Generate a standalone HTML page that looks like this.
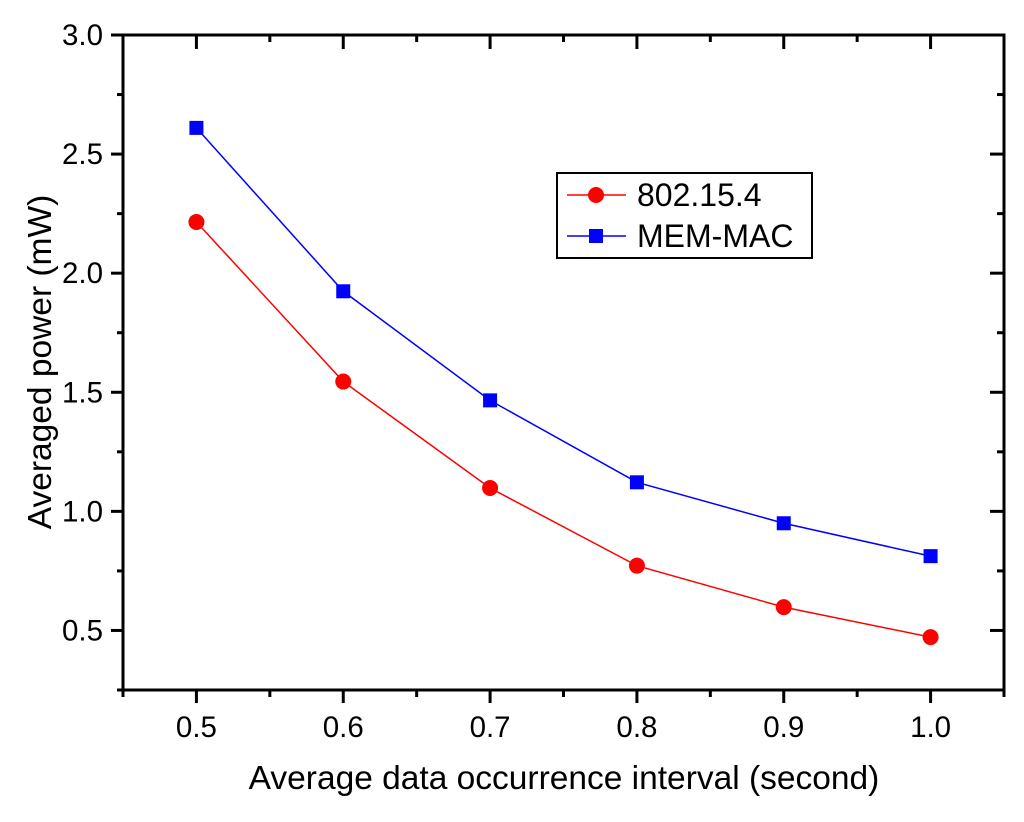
<!DOCTYPE html>
<html><head><meta charset="utf-8"><style>
body{margin:0;background:#fff;}
svg text{font-family:"Liberation Sans",Arial,sans-serif;fill:#000;}
</style></head><body>
<svg id="chart" width="1024" height="817" xmlns="http://www.w3.org/2000/svg">
<g id="grid"></g>
<g id="series"></g>
<g id="legend">
  <rect x="557" y="173" width="255" height="85" fill="#fff" stroke="#000" stroke-width="2"/>
  <g>
    <line x1="567" y1="195" x2="626" y2="195" stroke="#f00" stroke-width="1.5"/>
    <circle cx="596" cy="195" r="8" fill="#f00"/>
    <text x="637" y="206" font-size="32">802.15.4</text>
  </g>
  <g>
    <line x1="567" y1="236" x2="626" y2="236" stroke="#00f" stroke-width="1.5"/>
    <rect x="589" y="229" width="14" height="14" fill="#00f"/>
    <text x="637" y="247" font-size="32">MEM-MAC</text>
  </g>
</g>
<text x="564" y="789" font-size="33.5" text-anchor="middle">Average data occurrence interval (second)</text>
<text transform="translate(51,362) rotate(-90)" font-size="33.5" text-anchor="middle">Averaged power (mW)</text>
</svg>
<script>
const categories=[0.5,0.6,0.7,0.8,0.9,1.0];
const series802=[2.215,1.545,1.098,0.772,0.598,0.472];
const seriesMem=[2.61,1.924,1.466,1.122,0.95,0.812];
const xTicks=["0.5","0.6","0.7","0.8","0.9","1.0"];
const yTicks=["0.5","1.0","1.5","2.0","2.5","3.0"];
const L=123,R=1004,T=35,B=690,xmin=0.45,xmax=1.05,ymin=0.25,ymax=3.0;
const X=v=>L+(v-xmin)/(xmax-xmin)*(R-L);
const Y=v=>B-(v-ymin)/(ymax-ymin)*(B-T);
const NS="http://www.w3.org/2000/svg";
const g=document.getElementById('grid'),s=document.getElementById('series');
function mk(tag,at,p){const e=document.createElementNS(NS,tag);for(const k in at)e.setAttribute(k,at[k]);(p||g).appendChild(e);return e;}
const frame=mk('rect',{x:L,y:T,width:R-L,height:B-T,fill:'none',stroke:'#000','stroke-width':3});


xTicks.forEach((t,i)=>{const v=parseFloat(t),x=X(v);
 mk('line',{x1:x,y1:B,x2:x,y2:B+13,stroke:'#000','stroke-width':3});
 mk('line',{x1:x,y1:T,x2:x,y2:T+14,stroke:'#000','stroke-width':3});
 const tx=mk('text',{x:x,y:B+47,'font-size':29.5,'text-anchor':'middle'});tx.textContent=t;
 
 });
for(let v=0.45;v<1.06;v+=0.1){const x=X(v);
 mk('line',{x1:x,y1:B,x2:x,y2:B+7,stroke:'#000','stroke-width':3});
 mk('line',{x1:x,y1:T,x2:x,y2:T+7,stroke:'#000','stroke-width':3});}
yTicks.forEach(t=>{const v=parseFloat(t),y=Y(v);
 mk('line',{x1:L-12,y1:y,x2:L,y2:y,stroke:'#000','stroke-width':3});
 mk('line',{x1:R-14,y1:y,x2:R,y2:y,stroke:'#000','stroke-width':3});
 const tx=mk('text',{x:L-20,y:y+10,'font-size':29.5,'text-anchor':'end'});tx.textContent=t;
 
 });
for(let v=0.25;v<3;v+=0.5){const y=Y(v);
 mk('line',{x1:L-6,y1:y,x2:L,y2:y,stroke:'#000','stroke-width':3});
 mk('line',{x1:R-7,y1:y,x2:R,y2:y,stroke:'#000','stroke-width':3});}
function draw(vals,color,shape,name){
 const pl=mk('polyline',{points:vals.map((v,i)=>X(categories[i])+','+Y(v)).join(' '),fill:'none',stroke:color,'stroke-width':1.5},s);
 
 
 vals.forEach((v,i)=>{const x=X(categories[i]),y=Y(v);let m;
  if(shape==='c')m=mk('circle',{cx:x,cy:y,r:8,fill:color},s);
  else m=mk('rect',{x:x-7,y:y-7,width:14,height:14,fill:color},s);
  
  });}
draw(series802,'#f00','c','series-802154');
draw(seriesMem,'#00f','s','series-mem-mac');
</script>
</body></html>
